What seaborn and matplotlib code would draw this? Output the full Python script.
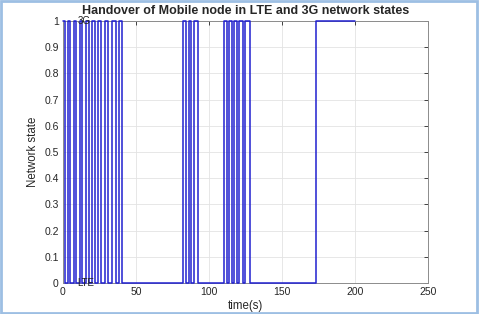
import matplotlib
matplotlib.use("Agg")
import matplotlib.pyplot as plt
import seaborn as sns
import pandas as pd
from matplotlib.patches import Rectangle

# switching instants (s) and the network state taken from each instant (1 = 3G, 0 = LTE)
times = [0, 1.5, 3.5, 5, 7.5, 9, 11.5, 13, 15.5, 17.5, 20, 22, 24, 26, 28.5, 31,
         33.5, 36, 38.5, 40.5,
         82, 84.5, 86, 88, 89.5, 92.5,
         110, 112.5, 114, 116, 117, 119.5, 120.5, 123, 124.5, 128,
         173, 200]
states = [1, 0, 1, 0, 1, 0, 1, 0, 1, 0, 1, 0, 1, 0, 1, 0,
          1, 0, 1, 0,
          1, 0, 1, 0, 1, 0,
          1, 0, 1, 0, 1, 0, 1, 0, 1, 0,
          1, 1]

x_ticks = [0, 50, 100, 150, 200, 250]
y_ticks = [0, 0.1, 0.2, 0.3, 0.4, 0.5, 0.6, 0.7, 0.8, 0.9, 1]
y_tick_labels = ["0", "0.1", "0.2", "0.3", "0.4", "0.5", "0.6", "0.7", "0.8", "0.9", "1"]


def main():
    sns.set_theme(style="white")
    plt.rcParams["font.family"] = ["Liberation Sans", "DejaVu Sans"]

    df = pd.DataFrame({"time": times, "state": states})

    fig = plt.figure(figsize=(4.79, 3.14), dpi=100)
    ax = fig.add_axes([0.1315, 0.0987, 0.762, 0.8343])

    sns.lineplot(data=df, x="time", y="state", ax=ax, sort=False, estimator=None,
                 drawstyle="steps-post", color="#2020d0", linewidth=1.1,
                 clip_on=False, zorder=5)

    # MATLAB-like axes
    ax.set_xlim(0, 250)
    ax.set_ylim(0, 1)
    ax.set_xticks(x_ticks)
    ax.set_xticklabels([str(t) for t in x_ticks])
    ax.set_yticks(y_ticks)
    ax.set_yticklabels(y_tick_labels)
    ax.grid(True, color="#e3e3e3", linewidth=0.6)
    ax.tick_params(direction="in", length=3, width=0.6, colors="#262626",
                   labelsize=7.5, top=True, right=True, pad=3)
    for side in ax.spines.values():
        side.set_color("#8c8c8c")
        side.set_linewidth(0.7)

    ax.text(10, 1, "3G", fontsize=7, va="center", ha="left", color="#222222", zorder=6)
    ax.text(10, 0, "LTE", fontsize=7, va="center", ha="left", color="#222222", zorder=6)

    ax.set_title("Handover of Mobile node in LTE and 3G network states",
                 fontsize=9, fontweight="bold", pad=5)
    ax.set_xlabel("time(s)", fontsize=8.3, labelpad=2)
    ax.set_ylabel("Network state", fontsize=8.3, labelpad=4)

    # light blue frame around the image
    fig.patches.append(Rectangle((0.002, 0.003), 0.994, 0.994, transform=fig.transFigure,
                                 fill=False, edgecolor="#9dbfe3", linewidth=2))

    fig.savefig("out.png", dpi=100)
    plt.close(fig)


if __name__ == "__main__":
    main()
